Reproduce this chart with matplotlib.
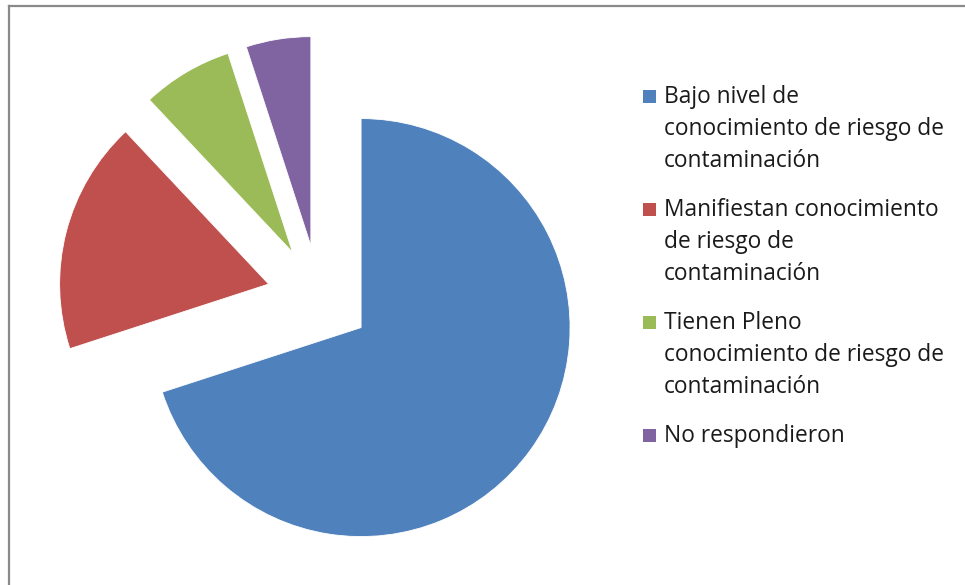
import matplotlib.pyplot as plt
from matplotlib.lines import Line2D
from matplotlib.patches import Rectangle

# survey shares (%)
categories = [
    "Bajo nivel de\nconocimiento de riesgo de\ncontaminación",
    "Manifiestan conocimiento\nde riesgo de\ncontaminación",
    "Tienen Pleno\nconocimiento de riesgo de\ncontaminación",
    "No respondieron",
]
shares = [70, 18, 7, 5]
colors = ["#4F81BD", "#C0504D", "#9BBB59", "#8064A2"]

W, H = 965, 585
fig = plt.figure(figsize=(W / 100, H / 100), dpi=100)
ax = fig.add_axes([0, 0, 1, 1])

# pie in pixel units, every slice pulled out the same distance
ax.pie(shares, colors=colors, startangle=90, counterclock=False,
       radius=209, center=(319, H - 297), explode=[52] * len(shares),
       wedgeprops=dict(linewidth=0.6, edgecolor="white"))
ax.set_xlim(0, W)
ax.set_ylim(0, H)
ax.set_aspect("equal")
ax.axis("off")

# chart area border (top and left only)
ax.add_line(Line2D([8.5, W], [H - 6, H - 6], color="#8a8a8a", lw=1.6))
ax.add_line(Line2D([8.5, 8.5], [0, H - 6], color="#8a8a8a", lw=1.6))

# legend drawn by hand so the marker sits on the first line
base = 103
step = 32
gap = 49
for label, c in zip(categories, colors):
    lines = label.split("\n")
    ax.add_patch(Rectangle((643, H - base), 13, 13, color=c, lw=0))
    for i, line in enumerate(lines):
        ax.text(664, H - (base + i * step), line, fontsize=16.4,
                family="Open Sans", color="#1a1a1a", va="baseline", ha="left")
    base += (len(lines) - 1) * step + gap

fig.savefig("out.png", dpi=100)
